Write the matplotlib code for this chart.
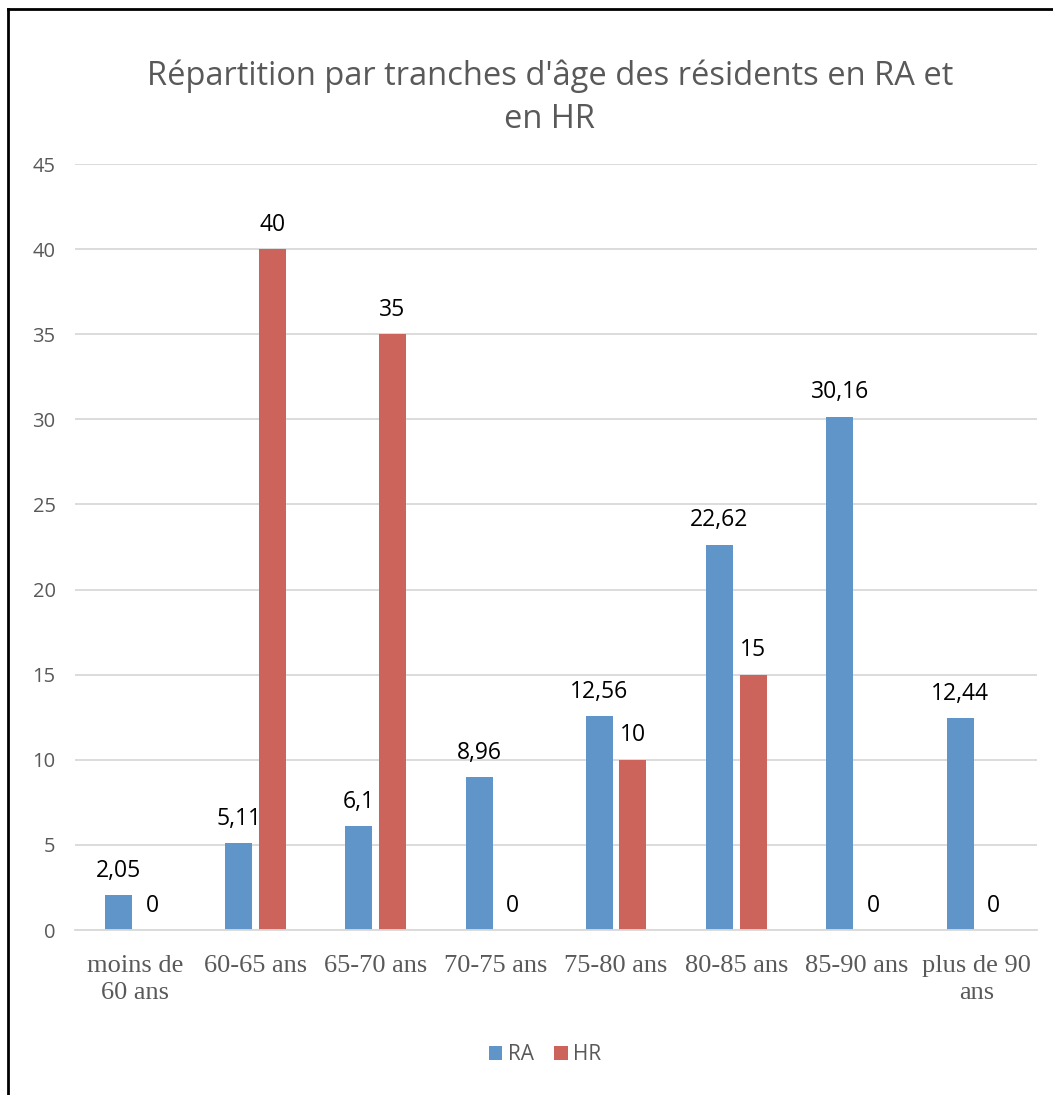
import matplotlib
matplotlib.use("Agg")
import matplotlib.pyplot as plt
import numpy as np
from matplotlib.lines import Line2D

categories = ["moins de\n60 ans", "60-65 ans", "65-70 ans", "70-75 ans",
              "75-80 ans", "80-85 ans", "85-90 ans", "plus de 90\nans"]
ra_values = [2.05, 5.11, 6.1, 8.96, 12.56, 22.62, 30.16, 12.44]
hr_values = [0, 40, 35, 0, 10, 15, 0, 0]
ra_labels = ["2,05", "5,11", "6,1", "8,96", "12,56", "22,62", "30,16", "12,44"]
hr_labels = ["0", "40", "35", "0", "10", "15", "0", "0"]
yticks = [0, 5, 10, 15, 20, 25, 30, 35, 40, 45]

W, H = 1053, 1095
fig = plt.figure(figsize=(W / 100, H / 100), dpi=100)
ax = fig.add_axes([75 / W, 1 - 930 / H, (1037 - 75) / W, (930 - 164) / H])

sans = ["Open Sans", "DejaVu Sans"]
blue = "#5f95c8"
red = "#cd645c"
gray = "#595959"

x = np.arange(len(categories))
bw = 0.225
off = 0.14
b1 = ax.bar(x - off, ra_values, bw, color=blue, label="RA")
b2 = ax.bar(x + off, hr_values, bw, color=red, label="HR")

for bars, labels in ((b1, ra_labels), (b2, hr_labels)):
    for rect, lab in zip(bars, labels):
        ax.annotate(lab, (rect.get_x() + rect.get_width() / 2, rect.get_height()),
                    xytext=(0, 9), textcoords="offset points", ha="center", va="bottom",
                    fontsize=16.5, family=sans, color="black")

ax.set_xlim(-0.5, len(categories) - 0.5)
ax.set_ylim(0, 45)
ax.set_yticks(yticks)
ax.set_yticklabels([str(t) for t in yticks], family=sans, fontsize=14.5, color=gray)
ax.set_xticks(x)
ax.set_xticklabels(categories, family="Liberation Serif", fontsize=19, color=gray,
                   linespacing=1.32)
ax.tick_params(axis="both", length=0)
ax.tick_params(axis="y", pad=14)
ax.tick_params(axis="x", pad=18)
ax.grid(axis="y", color="#d9d9d9", linewidth=1.3)
ax.set_axisbelow(True)
for s in ["top", "right", "left"]:
    ax.spines[s].set_visible(False)
ax.spines["bottom"].set_color("#d9d9d9")
ax.spines["bottom"].set_linewidth(1.3)

fig.text(550 / W, 1 - 97.5 / H, "Répartition par tranches d'âge des résidents en RA et\nen HR",
         ha="center", va="center", fontsize=23.5, family=sans, color=gray, linespacing=1.4)

leg = fig.legend(handles=[b1, b2], labels=["RA", "HR"], loc="center",
                 bbox_to_anchor=(545 / W, 1 - 1055 / H), ncol=2, frameon=False,
                 prop={"family": sans, "size": 15}, handlelength=0.65, handleheight=0.65,
                 handletextpad=0.25, columnspacing=1.0)
for t in leg.get_texts():
    t.set_color(gray)

fig.add_artist(Line2D([8 / W, 8 / W], [0, 1 - 9 / H], color="black", linewidth=2,
                      transform=fig.transFigure))
fig.add_artist(Line2D([8 / W, 1], [1 - 9 / H, 1 - 9 / H], color="black", linewidth=2,
                      transform=fig.transFigure))

fig.savefig("out.png", dpi=100, facecolor="white")
